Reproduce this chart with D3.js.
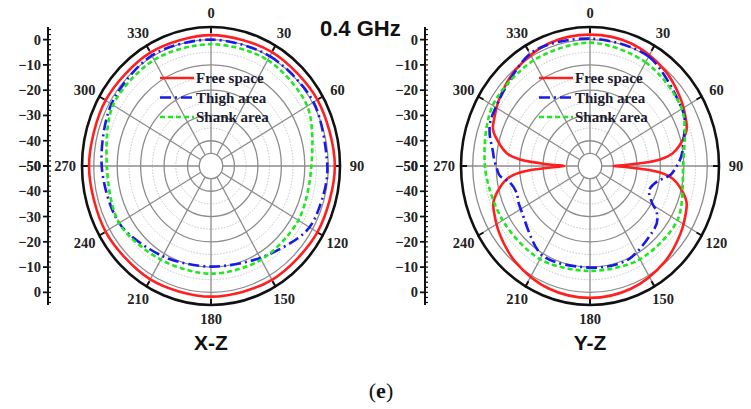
<!DOCTYPE html>
<html><head><meta charset="utf-8">
<script src="https://cdn.jsdelivr.net/npm/d3@7"></script>
<style>body{margin:0;background:#fff;} svg{display:block}</style>
</head><body><svg id="c" width="751" height="409"></svg>
<script>
// ---------- data ----------
const angleTicks = [0,30,60,90,120,150,180,210,240,270,300,330];
const radialTickValues = [0,-10,-20,-30,-40,-50];
const seriesNames = ["Free space","Thigh area","Shank area"];
const seriesColors = ["#ff1f1f","#1a1ae6","#22e622"];
const panelTitles = ["X-Z","Y-Z"];
const freqLabel = "0.4 GHz";
const figLabel = "e";

// X-Z plane: [angle (deg), gain (dB)]
const xzFree  = [[0,1.8],[30,2],[60,2.4],[90,2.8],[120,2.4],[150,2],[180,1.7],[210,1.8],[240,1.9],[270,2],[300,1.9],[330,1.8]];
const xzThigh = [[0,0],[30,0.2],[60,0.5],[90,-0.4],[110,-1],[125,-2.5],[150,-8],[180,-10.2],[210,-8.8],[240,-4.8],[270,-3.4],[300,-1],[330,0.5]];
const xzShank = [[0,-1.8],[30,-1.6],[60,-2.6],[90,-7.2],[120,-7],[150,-7.2],[180,-7.4],[210,-7.2],[240,-4.8],[270,-5.6],[300,-1.8],[330,-1.5]];

// Y-Z plane
const yzFree = [[0,2],[20,1.6],[40,-0.5],[55,-3],[65,-5],[71,-6.5],[78,-11],[82,-14.5],[85,-20],[87,-28],[88.5,-35],[90,-40],
  [91.5,-35],[93,-28],[95,-20],[98,-14.5],[102,-11],[109,-6.5],[115,-5],[125,-3],[140,-0.5],[160,1.6],[180,2.2],
  [200,1.6],[220,-0.5],[235,-3],[245,-5],[251,-6.5],[258,-11],[262,-14.5],[265,-20],[267,-28],[268.5,-35],[270,-39],
  [271.5,-35],[273,-28.6],[275,-20],[278,-14.3],[282,-11],[289,-6.3],[295,-5],[305,-3],[320,-0.5],[340,1.6]];
const yzThigh = [[0,0.4],[30,0],[60,-4.7],[75,-8.6],[84,-10.8],[90,-13],[96,-15.6],[102,-20.7],[111,-23],[119,-19.7],[123,-16],[132,-13],[156,-9.6],[180,-9.8],[210,-9.2],
  [241,-16],[251,-17],[259,-15.3],[264,-11.5],[268,-10.4],[277,-8.4],[295,-3.8],[330,1.2]];
const yzShank = [[0,-1.2],[30,-2.6],[60,-4.8],[90,-10.3],[120,-7],[150,-7.4],[180,-8.5],[210,-7.4],[240,-7],[270,-5.2],[300,-2.1],[330,-1.8]];

const panels = [
  {cx:211, cy:166, axisX:48, series:[xzFree,xzThigh,xzShank], title:panelTitles[0]},
  {cx:590, cy:166, axisX:425, series:[yzFree,yzThigh,yzShank], title:panelTitles[1]}
];

const svg = d3.select("#c");
const rMin = -50, rMax = 5;
const rX = d3.scaleLinear().domain([rMin, rMax]).range([0, 129]);
const rY = d3.scaleLinear().domain([rMin, rMax]).range([0, 139]);
const ang = d3.scaleLinear().domain([0,360]).range([0, 2*Math.PI]);
const serif = "'Liberation Serif','Times New Roman',serif";
const sans = "'Liberation Sans',Arial,sans-serif";
const dashes = [null, "11,4,2,4", "5,3"];

function pt(p, a, v){ const t = ang(a); return [p.cx + rX(v)*Math.sin(t), p.cy - rY(v)*Math.cos(t)]; }
function ellipse(g, p, v){ return g.append("ellipse").attr("cx",p.cx).attr("cy",p.cy).attr("rx",rX(v)).attr("ry",rY(v)).attr("fill","none"); }

panels.forEach((p,pi)=>{
  const g = svg.append("g");
  // rings: dotted at odd 5 dB, solid at 10 dB
  d3.range(-35, 5, 10).forEach(v=>{
    ellipse(g,p,v).attr("stroke","#c4c4c4").attr("stroke-width",1).attr("stroke-dasharray","1.5,1.5");
  });
  d3.range(-40, 1, 10).forEach(v=>{
    ellipse(g,p,v).attr("stroke","#8c8c8c").attr("stroke-width",1.3);
  });
  // spokes
  angleTicks.forEach(a=>{
    const a0 = pt(p,a,-45), a1 = pt(p,a,rMax);
    g.append("line").attr("x1",a0[0]).attr("y1",a0[1]).attr("x2",a1[0]).attr("y2",a1[1]).attr("stroke","#8c8c8c").attr("stroke-width",1.3);
  });
  // inner hole
  ellipse(g,p,-45).attr("fill","#fff").attr("stroke","#8c8c8c").attr("stroke-width",1.3);
  // outer circle
  ellipse(g,p,rMax).attr("stroke","#111").attr("stroke-width",2.6);
  angleTicks.forEach(a=>{
    const t = ang(a);
    const x0 = p.cx + (rX(rMax)-6)*Math.sin(t), y0 = p.cy - (rY(rMax)-6)*Math.cos(t);
    const x1 = p.cx + (rX(rMax)+1)*Math.sin(t), y1 = p.cy - (rY(rMax)+1)*Math.cos(t);
    g.append("line").attr("x1",x0).attr("y1",y0).attr("x2",x1).attr("y2",y1).attr("stroke","#111").attr("stroke-width",2);
  });
  // angle labels
  angleTicks.forEach(a=>{
    const t = ang(a);
    g.append("text").attr("x", p.cx + 146*Math.sin(t)).attr("y", p.cy - 153*Math.cos(t))
      .attr("text-anchor","middle").attr("dominant-baseline","central")
      .attr("font-family",serif).attr("font-weight","bold").attr("font-size",14.5).attr("fill","#222")
      .text(a);
  });
  // series
  p.series.forEach((s,si)=>{
    const line = d3.line().curve(si===0 && pi===1 ? d3.curveCatmullRomClosed.alpha(0.5) : d3.curveCardinalClosed.tension(0.1))
      .x(d=>pt(p,d[0],d[1])[0]).y(d=>pt(p,d[0],d[1])[1]);
    const path = g.append("path").attr("d", line(s)).attr("fill","none")
      .attr("stroke", seriesColors[si]).attr("stroke-width", 2.6);
    if(dashes[si]) path.attr("stroke-dasharray", dashes[si]);
  });
  // legend
  const lx = p.cx - 51, ly = 78;
  seriesNames.forEach((n,i)=>{
    const y = ly + i*19.5;
    const l = g.append("line").attr("x1",lx).attr("x2",lx+34).attr("y1",y).attr("y2",y)
      .attr("stroke",seriesColors[i]).attr("stroke-width",2.6);
    if(dashes[i]) l.attr("stroke-dasharray",dashes[i]);
    g.append("text").attr("x",lx+36).attr("y",y).attr("dominant-baseline","central")
      .attr("font-family",serif).attr("font-weight","bold").attr("font-size",15).attr("fill","#1b1b2e").text(n);
  });
  // radial axis on left
  const yTop = d3.scaleLinear().domain([rMin,rMax]).range([p.cy, p.cy - rY(rMax)]);
  const yBot = d3.scaleLinear().domain([rMin,rMax]).range([p.cy, p.cy + rY(rMax)]);
  const ax = svg.append("g");
  ax.append("line").attr("x1",p.axisX).attr("x2",p.axisX).attr("y1",yTop(rMax)).attr("y2",yBot(rMax)).attr("stroke","#111").attr("stroke-width",2);
  d3.range(-50, 5.01, 2).forEach(v=>{
    [yTop(v), yBot(v)].forEach(y=>{
      ax.append("line").attr("x1",p.axisX).attr("x2",p.axisX+3).attr("y1",y).attr("y2",y).attr("stroke","#111").attr("stroke-width",1.2);
    });
  });
  radialTickValues.forEach(v=>{
    [yTop(v), yBot(v)].forEach(y=>{
      ax.append("line").attr("x1",p.axisX-5).attr("x2",p.axisX).attr("y1",y).attr("y2",y).attr("stroke","#111").attr("stroke-width",1.8);
      ax.append("text").attr("x",p.axisX-7).attr("y",y).attr("text-anchor","end").attr("dominant-baseline","central")
        .attr("font-family",serif).attr("font-weight","bold").attr("font-size",14.5).attr("fill","#222")
        .text(v===0 ? "0" : "\u2212"+Math.abs(v));
    });
  });
  // title
  svg.append("text").attr("x",p.cx).attr("y",350).attr("text-anchor","middle")
    .attr("font-family",sans).attr("font-weight","bold").attr("font-size",21).attr("fill","#111").text(p.title);
});

svg.append("text").attr("x",320).attr("y",36).attr("font-family",sans).attr("font-weight","bold")
  .attr("font-size",22).attr("fill","#111").text(freqLabel);
const fl = svg.append("text").attr("x",381).attr("y",398).attr("text-anchor","middle")
  .attr("font-family",serif).attr("font-size",22).attr("fill","#111");
fl.append("tspan").text("(");
fl.append("tspan").attr("font-weight","bold").text(figLabel);
fl.append("tspan").text(")");
</script></body></html>
